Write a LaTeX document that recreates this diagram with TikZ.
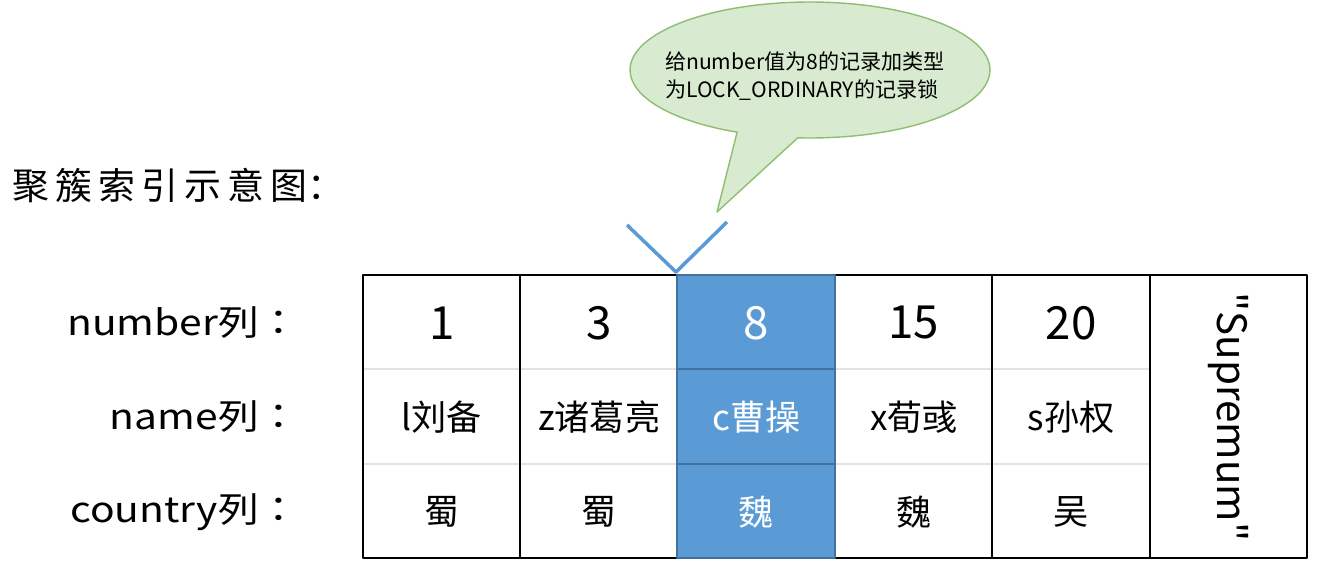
\documentclass[tikz,border=0pt]{standalone}
\usepackage{fontspec}
\setmainfont{Noto Sans CJK SC}
\newfontfamily\tcfont{Noto Sans CJK TC}
\newfontfamily\plainfont{Noto Sans CJK SC}
\usetikzlibrary{shapes.callouts}
\definecolor{hotblue}{HTML}{5B9BD5}
\definecolor{darkblue}{HTML}{41719C}
\definecolor{bubblefill}{HTML}{D8EAD0}
\definecolor{bubbleline}{HTML}{8CBF6F}
\begin{document}
\begin{tikzpicture}[x=0.02cm,y=-0.02cm,line join=round,
  cellline/.style={line width=1.6pt},
  rowline/.style={line width=1.2pt,draw=gray!22},
  hotcell/.style={fill=hotblue,draw=darkblue,line width=1.2pt},
  vline/.style={draw=hotblue,line width=2pt},
  numtext/.style={font=\fontsize{26}{30}\selectfont},
  celltext/.style={font=\fontsize{20}{24}\selectfont},
  colname/.style={anchor=east,inner sep=0pt,font=\tcfont\fontsize{20}{24}\selectfont}]
  \useasboundingbox (0,0) rectangle (1322,571);

  % 标题
  \node[anchor=west,font=\fontsize{21}{25}\selectfont] (title) at (6,185) {聚\,簇\,索\,引\,示\,意\,图：};

  % 左侧列名
  \node[colname] (lnum) at (300,323) {\scalebox{1.16}[1]{number列：}};
  \node[colname] (lname) at (300,417) {\scalebox{1.16}[1]{name列：}};
  \node[colname] (lcountry) at (300,512) {\scalebox{1.16}[1]{country列：}};

  % 行分隔线(浅灰)
  \draw[rowline] (363,369) -- (1150,369);
  \draw[rowline] (363,464) -- (1150,464);

  % 外框与竖线
  \draw[cellline] (363,275) rectangle (1307,558);
  \foreach \x in {520,677,835,992,1150}
    \draw[cellline] (\x,275) -- (\x,558);

  % number=8 的记录(高亮)
  \draw[hotcell] (677,275) rectangle (835,558);
  \draw[draw=darkblue,line width=1.2pt] (677,369) -- (835,369);
  \draw[draw=darkblue,line width=1.2pt] (677,464) -- (835,464);

  % 单元格内容
  \foreach \num/\nm/\ct/\tc [count=\i] in {1/l刘备/蜀/black, 3/z诸葛亮/蜀/black,
      8/c曹操/魏/white, 15/x荀彧/魏/black, 20/s孙权/吴/black} {
    \node[numtext,text=\tc] (num\i) at ({363+157.4*(\i-0.5)},323) {\num};
    \node[celltext,text=\tc] (name\i) at ({363+157.4*(\i-0.5)},417) {\nm};
    \node[celltext,text=\tc] (country\i) at ({363+157.4*(\i-0.5)},512) {\ct};
  }

  % Supremum 记录
  \node[rotate=-90,font=\plainfont\fontsize{23}{27}\selectfont] (sup) at (1228,417) {"Supremum"};

  % 指向高亮记录的标记
  \coordinate (vtip) at (676,272);
  \coordinate (vleft) at (627,225);
  \coordinate (vright) at (727,222);
  \draw[vline] (vleft) -- (vtip) -- (vright);

  % 说明气泡
  \coordinate (ptr) at (717,212);
  \node[ellipse callout,draw=bubbleline,fill=bubblefill,line width=0.8pt,
    minimum width=7.2cm,minimum height=2.72cm,
    callout absolute pointer={(ptr)},callout pointer arc=20] (bubble) at (810,70) {};
  \node[align=left,font=\fontsize{12}{16}\selectfont] (bubbletext) at (805,76)
    {给number值为8的记录加类型\\为LOCK\_ORDINARY的记录锁};
\end{tikzpicture}
\end{document}
